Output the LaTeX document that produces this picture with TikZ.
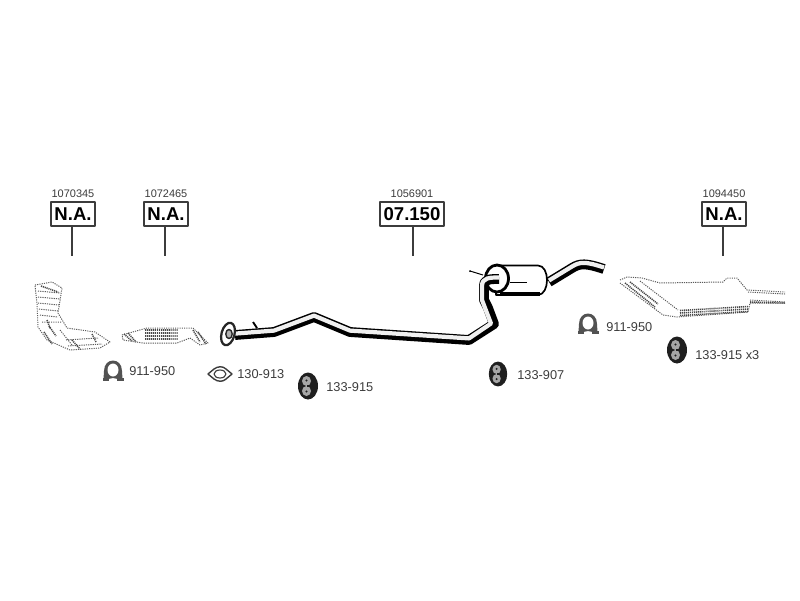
\documentclass[tikz,border=0pt]{standalone}
\usepackage{fontspec}
\setmainfont{Liberation Sans}
\usepackage{xcolor}
\definecolor{inkgray}{HTML}{3C3C3C}
\definecolor{dotgray}{HTML}{5A5A5A}
\begin{document}
\begin{tikzpicture}[-, x=0.025cm, y=-0.025cm, line join=round,
sign node/.style={draw=inkgray, line width=0.9pt, fill=white, inner sep=0pt, font=\fontsize{13.2}{14}\selectfont\bfseries, text=black, minimum height=24*0.025cm},
ref node/.style={font=\fontsize{7.8}{9}\selectfont, text=inkgray, anchor=south},
part node/.style={font=\fontsize{9.1}{11}\selectfont, text=inkgray, anchor=west, inner sep=0pt},
pole/.style={draw=inkgray, line width=1pt},
ghost/.style={draw=dotgray, line width=0.7pt, dash pattern=on 0.8pt off 0.8pt},
hatch/.style={draw=dotgray!80!black, line width=1.1pt, dash pattern=on 0.8pt off 0.6pt},
pipe black/.style={draw=black, line width=7pt},
pipe white/.style={draw=black!6, line width=3pt},
mount/.pic={
\fill[black!88] (0,0) ellipse (10 and 13.5);
\fill[black!35] (-1.5,-5) ellipse (4.5 and 5);
\fill[black!35] (-1.5,5) ellipse (4.5 and 5);
\fill[black!88] (-1.5,-1.2) rectangle (5,1.2);
\fill[black!88] (-1.5,-5.5) circle (1.2) (-1.5,5.5) circle (1.2);
},
clamp/.pic={
\fill[black!68] (-9.5,8) -- (-9,0) .. controls (-9,-14) and (9,-14) .. (9,0) -- (9.5,8) -- (5,8) -- (0,7) -- (-5,8) -- cycle;
\fill[white] (0,-1) ellipse (5.5 and 6.5);
\fill[black!68] (-10.5,7) rectangle (-4,10);
\fill[black!68] (4,7) rectangle (10.5,10);
}]
\useasboundingbox (0,0) rectangle (800,600);
% signs
\node[sign node, minimum width=44*0.025cm] (sign1) at (73,214) {N.A.};
\node[sign node, minimum width=44*0.025cm] (sign2) at (166,214) {N.A.};
\node[sign node, minimum width=64*0.025cm] (sign3) at (412,214) {07.150};
\node[sign node, minimum width=44*0.025cm] (sign4) at (724,214) {N.A.};
\node[ref node] (ref1) at (73,203) {1070345};
\node[ref node] (ref2) at (166,203) {1072465};
\node[ref node] (ref3) at (412,203) {1056901};
\node[ref node] (ref4) at (724,203) {1094450};
\coordinate (end1) at (72,256);
\coordinate (end2) at (165,256);
\coordinate (end3) at (413,256);
\coordinate (end4) at (723,256);
\path[pole]
(sign1.south -| end1) edge (end1)
(sign2.south -| end2) edge (end2)
(sign3.south -| end3) edge (end3)
(sign4.south -| end4) edge (end4);
% dotted parts
\draw[ghost] (35,285) -- (52,282) -- (62,288) -- (58,313) -- (67,328) -- (95,332) -- (110,342) -- (100,348) -- (70,350) -- (47,340) -- (38,327) -- (37,303) -- cycle;
\draw[ghost] (38,291) -- (60,293) (38,297) -- (60,299) (38,303) -- (59,305) (39,309) -- (58,311) (40,315) -- (58,317) (42,322) -- (62,322) (66,340) -- (98,338) (68,346) -- (102,344) (60,330) -- (72,345);
\draw[hatch] (41,286) -- (58,292) (44,332) -- (52,344) (49,326) -- (56,336) (72,340) -- (80,349) (92,334) -- (96,342) (47,320) -- (50,328);
\draw[ghost] (122,335) -- (147,328) -- (193,328) -- (208,343) -- (200,345) -- (190,338) -- (177,343) -- (143,343) -- (123,340) -- cycle;
\draw[hatch] (145,330) -- (178,330) (145,333) -- (178,333) (145,336) -- (178,336) (145,339) -- (178,339) (124,334) -- (132,341) (128,333) -- (136,342) (198,332) -- (206,344) (193,330) -- (200,342);
\draw[ghost] (620,280) -- (627,277) -- (642,278) -- (660,283) -- (723,282) -- (727,278) -- (737,278) -- (747,290) -- (785,292) (785,303) -- (750,303) -- (748,312) -- (677,317) -- (663,315) -- (620,283);
\draw[ghost] (640,281) -- (678,310) (748,292) -- (785,294) (750,300) -- (785,302);
\draw[hatch] (680,313) -- (748,309) (680,315.5) -- (748,311.5) (680,310.5) -- (748,306.5) (625,283) -- (655,307) (630,282) -- (658,304) (750,302) -- (785,303);
% muffler
\draw[black, line width=1.2pt, fill=white] (496,265.5) -- (538,265.5) .. controls (550,265.5) and (550,294.5) .. (538,295) -- (496,295) -- cycle;
\draw[black, line width=3pt] (500,293.8) -- (540,293.8);
\draw[black, line width=0.7pt] (510,282) -- (527,282);
\draw[black, line width=2pt, fill=white] (497,278.5) ellipse (11.5 and 13.5);
% pipe
\path[pipe black] (235,335) -- (274,332) -- (314,317) -- (350,332) -- (469,340) -- (494,324) -- (488,308) -- (484,300) -- (484,286) .. controls (484,279) and (490,279) .. (499,279);
\path[pipe white] (235,333.6) -- (274,330.6) -- (314,315.6) -- (350,330.6) -- (469,338.4) -- (491,323.5) -- (485,308) -- (482,300) -- (482,286) .. controls (482,277.5) and (490,277.5) .. (499,277.5);
\path[pipe black] (549,282) -- (572,268) .. controls (580,263) and (586,263) .. (604,269);
\path[pipe white] (549,280.5) -- (572,266.5) .. controls (580,261.5) and (586,261.5) .. (604,267.5);
\draw[black, line width=0.7pt] (470,271) -- (483,275);
\fill[black] (470,271) circle (1);
% flange
\draw[black!85, line width=1.6pt, fill=white, rotate around={-15:(228,334)}] (228,334) ellipse (6.5 and 11.5);
\draw[black!85, line width=1pt, fill=black!30] (229,334) ellipse (3.2 and 4.6);
\draw[black, line width=1.3pt] (253,322) -- (257,328);
% small parts
\pic at (113,371) {clamp};
\pic at (588,324) {clamp};
\draw[inkgray, line width=1pt] (208,374) -- (214,369) .. controls (218,366) and (223,366) .. (226,369) -- (232,374) -- (226,379) .. controls (223,382) and (218,382) .. (214,379) -- cycle;
\draw[inkgray, line width=0.8pt] (220,374) ellipse (6 and 4);
\pic at (308,386) {mount};
\pic[scale=0.92] at (498,374) {mount};
\pic at (677,350) {mount};
\node[part node] (lab1) at (129,371) {911-950};
\node[part node] (lab2) at (237,374) {130-913};
\node[part node] (lab3) at (326,387) {133-915};
\node[part node] (lab4) at (517,375) {133-907};
\node[part node] (lab5) at (606,327) {911-950};
\node[part node] (lab6) at (695,355) {133-915 x3};
\end{tikzpicture}
\end{document}
